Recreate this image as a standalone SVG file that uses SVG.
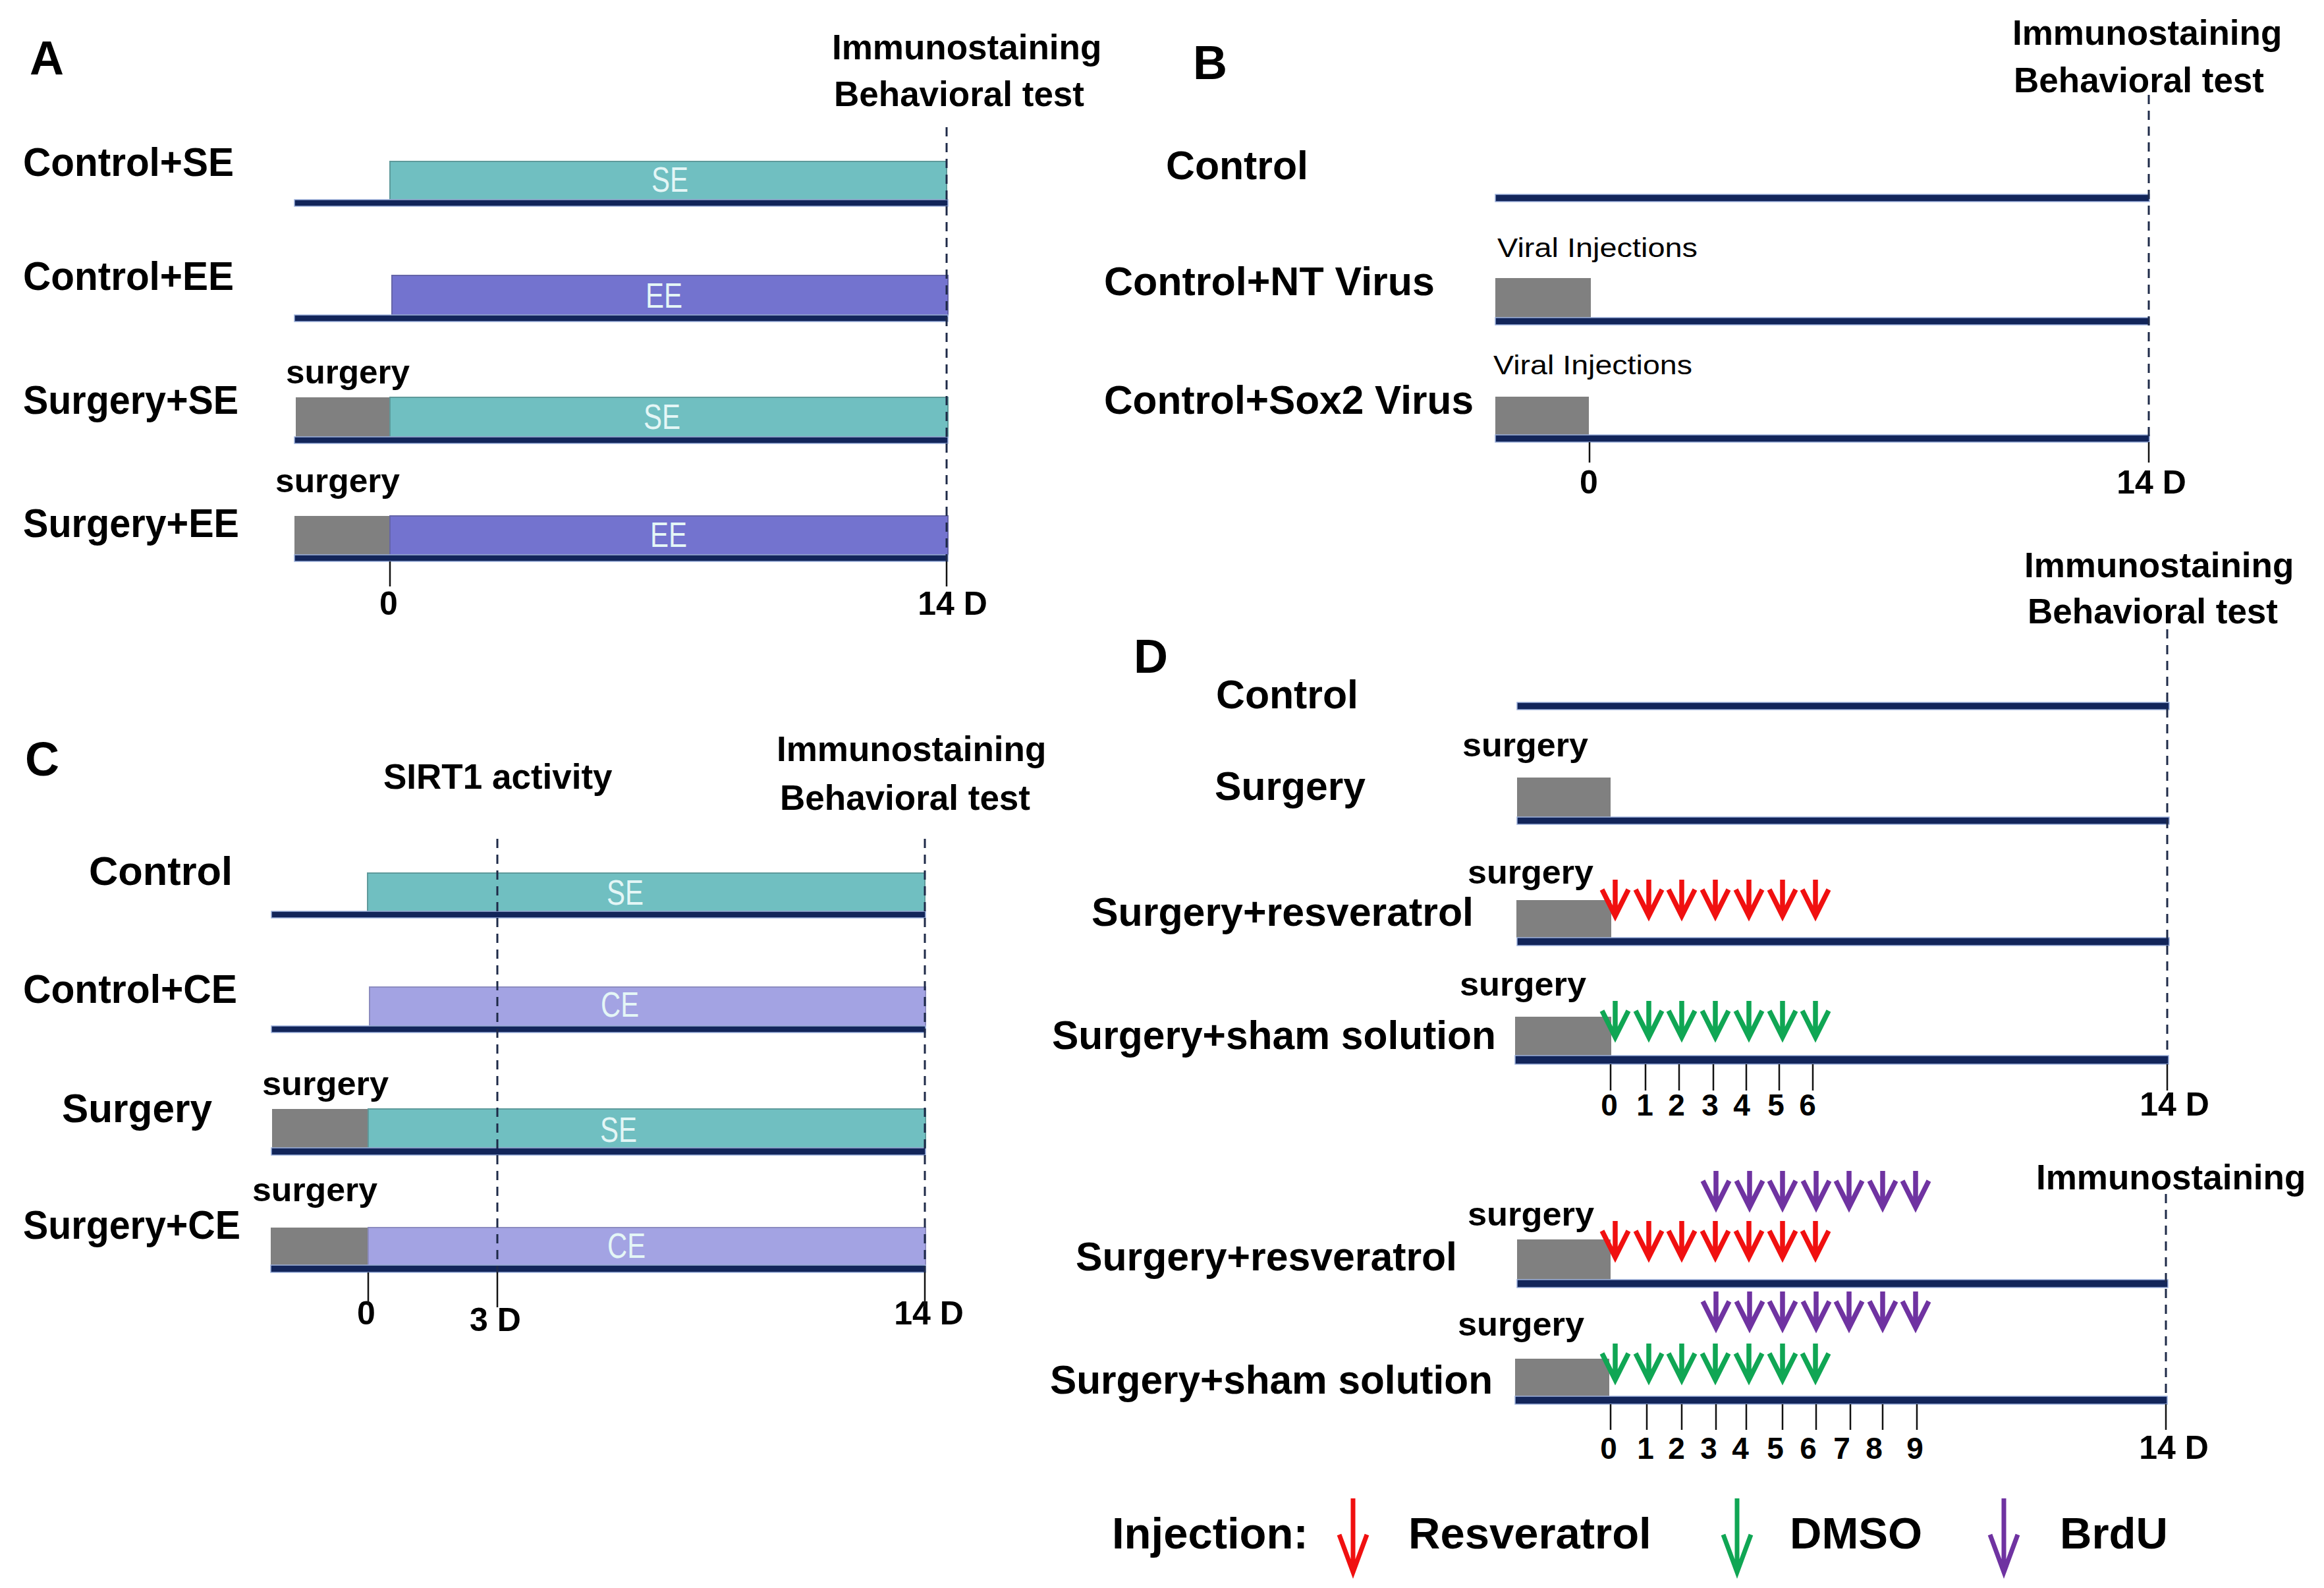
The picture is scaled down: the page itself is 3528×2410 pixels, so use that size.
<svg xmlns="http://www.w3.org/2000/svg" xmlns:xlink="http://www.w3.org/1999/xlink" width="3528" height="2410" viewBox="0 0 3528 2410">
<style>
text{font-family:"Liberation Sans",Arial,sans-serif;fill:#000}
.pan{font-size:72px;font-weight:bold}
.lbl{font-size:62px;font-weight:bold}
.hdr{font-size:53px;font-weight:bold}
.sur{font-size:50px;font-weight:bold}
.tk{font-size:50px;font-weight:bold;text-anchor:middle}
.dg{font-size:46px;font-weight:bold;text-anchor:middle}
.bt{font-size:54px;fill:#e4f6f6;text-anchor:middle}
.vir{font-size:41px}
.leg{font-size:67px;font-weight:bold}
.tl{fill:#12255a;stroke:#9db1dc;stroke-width:1.5}
.gray{fill:#808080}
.se{fill:#70bfc1;stroke:#5e9a9b;stroke-width:2}
.ee{fill:#7373cf;stroke:#6565a8;stroke-width:2}
.ce{fill:#a3a3e3;stroke:#8c8cc0;stroke-width:2}
.dash{stroke:#1e2a48;stroke-width:3;stroke-dasharray:14 10;fill:none}
.tick{stroke:#111;stroke-width:2.5;fill:none}
.red{stroke:#f01010}
.grn{stroke:#10a654}
.pur{stroke:#6f33a1}
</style>
<defs>
<g id="arr" fill="none" stroke-width="7.5"><path d="M0,0 V52 M-20,15 L0,55 L20,15"/></g>
<g id="larr" fill="none" stroke-width="7"><path d="M0,0 V110 M-21,55 L0,112 L21,55"/></g>
</defs>

<g id="panelA">
<text class="pan" x="45" y="113">A</text>
<text class="hdr" x="1263" y="90">Immunostaining</text>
<text class="hdr" x="1266" y="161">Behavioral test</text>
<g id="A-row1">
<text class="lbl" x="35" y="267" textLength="320" lengthAdjust="spacingAndGlyphs">Control+SE</text>
<rect class="se" x="592" y="245" width="845" height="58"/>
<text class="bt" x="1017" y="291" textLength="56" lengthAdjust="spacingAndGlyphs">SE</text>
<rect class="tl" x="447" y="303" width="992" height="10"/>
</g>
<g id="A-row2">
<text class="lbl" x="35" y="440" textLength="320" lengthAdjust="spacingAndGlyphs">Control+EE</text>
<rect class="ee" x="595" y="418" width="844" height="60"/>
<text class="bt" x="1008" y="467" textLength="56" lengthAdjust="spacingAndGlyphs">EE</text>
<rect class="tl" x="447" y="478" width="992" height="10"/>
</g>
<g id="A-row3">
<text class="sur" x="434" y="582" textLength="188" lengthAdjust="spacingAndGlyphs">surgery</text>
<text class="lbl" x="35" y="628" textLength="327" lengthAdjust="spacingAndGlyphs">Surgery+SE</text>
<rect class="gray" x="449" y="603" width="143" height="60"/>
<rect class="se" x="592" y="603" width="847" height="60"/>
<text class="bt" x="1005" y="651" textLength="56" lengthAdjust="spacingAndGlyphs">SE</text>
<rect class="tl" x="447" y="663" width="992" height="10"/>
</g>
<g id="A-row4">
<text class="sur" x="418" y="747" textLength="189" lengthAdjust="spacingAndGlyphs">surgery</text>
<text class="lbl" x="35" y="815" textLength="328" lengthAdjust="spacingAndGlyphs">Surgery+EE</text>
<rect class="gray" x="447" y="783" width="145" height="59"/>
<rect class="ee" x="592" y="783" width="847" height="59"/>
<text class="bt" x="1015" y="830" textLength="56" lengthAdjust="spacingAndGlyphs">EE</text>
<rect class="tl" x="447" y="842" width="992" height="10"/>
</g>
<text class="tk" x="590" y="933">0</text>
<text class="tk" x="1446" y="933">14 D</text>
</g>

<g id="panelB">
<text class="pan" x="1811" y="120">B</text>
<text class="hdr" x="3055" y="68">Immunostaining</text>
<text class="hdr" x="3057" y="140">Behavioral test</text>
<g id="B-row1">
<text class="lbl" x="1770" y="272" textLength="216" lengthAdjust="spacingAndGlyphs">Control</text>
<rect class="tl" x="2270" y="295" width="993" height="11"/>
</g>
<g id="B-row2">
<text class="vir" x="2273" y="390" textLength="304" lengthAdjust="spacingAndGlyphs">Viral Injections</text>
<text class="lbl" x="1676" y="448" textLength="502" lengthAdjust="spacingAndGlyphs">Control+NT Virus</text>
<rect class="gray" x="2270" y="422" width="145" height="60"/>
<rect class="tl" x="2270" y="482" width="993" height="11"/>
</g>
<g id="B-row3">
<text class="vir" x="2267" y="568" textLength="302" lengthAdjust="spacingAndGlyphs">Viral Injections</text>
<text class="lbl" x="1676" y="628" textLength="561" lengthAdjust="spacingAndGlyphs">Control+Sox2 Virus</text>
<rect class="gray" x="2270" y="602" width="142" height="58"/>
<rect class="tl" x="2270" y="660" width="993" height="11"/>
</g>
<text class="tk" x="2412" y="749">0</text>
<text class="tk" x="3266" y="749">14 D</text>
</g>

<g id="panelC">
<text class="pan" x="38" y="1177">C</text>
<text class="hdr" x="582" y="1197">SIRT1 activity</text>
<text class="hdr" x="1179" y="1155">Immunostaining</text>
<text class="hdr" x="1184" y="1229">Behavioral test</text>
<g id="C-row1">
<text class="lbl" x="135" y="1343" textLength="218" lengthAdjust="spacingAndGlyphs">Control</text>
<rect class="se" x="558" y="1325" width="846" height="58"/>
<text class="bt" x="949" y="1373" textLength="56" lengthAdjust="spacingAndGlyphs">SE</text>
<rect class="tl" x="412" y="1383" width="993" height="10"/>
</g>
<g id="C-row2">
<text class="lbl" x="35" y="1522" textLength="325" lengthAdjust="spacingAndGlyphs">Control+CE</text>
<rect class="ce" x="561" y="1498" width="844" height="59"/>
<text class="bt" x="941" y="1543" textLength="58" lengthAdjust="spacingAndGlyphs">CE</text>
<rect class="tl" x="412" y="1557" width="993" height="10"/>
</g>
<g id="C-row3">
<text class="sur" x="398" y="1662" textLength="192" lengthAdjust="spacingAndGlyphs">surgery</text>
<text class="lbl" x="94" y="1703" textLength="228" lengthAdjust="spacingAndGlyphs">Surgery</text>
<rect class="gray" x="413" y="1683" width="146" height="59"/>
<rect class="se" x="559" y="1683" width="846" height="59"/>
<text class="bt" x="939" y="1733" textLength="56" lengthAdjust="spacingAndGlyphs">SE</text>
<rect class="tl" x="412" y="1742" width="993" height="11"/>
</g>
<g id="C-row4">
<text class="sur" x="383" y="1823" textLength="190" lengthAdjust="spacingAndGlyphs">surgery</text>
<text class="lbl" x="35" y="1880" textLength="330" lengthAdjust="spacingAndGlyphs">Surgery+CE</text>
<rect class="gray" x="411" y="1863" width="148" height="57"/>
<rect class="ce" x="559" y="1863" width="846" height="57"/>
<text class="bt" x="951" y="1909" textLength="58" lengthAdjust="spacingAndGlyphs">CE</text>
<rect class="tl" x="411" y="1920" width="994" height="11"/>
</g>
<text class="tk" x="556" y="2010">0</text>
<text class="tk" x="752" y="2020">3 D</text>
<text class="tk" x="1410" y="2010">14 D</text>
</g>

<g id="panelD">
<text class="pan" x="1721" y="1021">D</text>
<text class="hdr" x="3073" y="876">Immunostaining</text>
<text class="hdr" x="3078" y="946">Behavioral test</text>
<g id="D-row1">
<text class="lbl" x="1846" y="1075" textLength="216" lengthAdjust="spacingAndGlyphs">Control</text>
<rect class="tl" x="2303" y="1066" width="990" height="11"/>
</g>
<g id="D-row2">
<text class="sur" x="2220" y="1148" textLength="191" lengthAdjust="spacingAndGlyphs">surgery</text>
<text class="lbl" x="1844" y="1214" textLength="229" lengthAdjust="spacingAndGlyphs">Surgery</text>
<rect class="gray" x="2303" y="1180" width="142" height="60"/>
<rect class="tl" x="2303" y="1240" width="990" height="11"/>
</g>
<g id="D-row3">
<text class="sur" x="2228" y="1341" textLength="191" lengthAdjust="spacingAndGlyphs">surgery</text>
<text class="lbl" x="1657" y="1405" textLength="580" lengthAdjust="spacingAndGlyphs">Surgery+resveratrol</text>
<rect class="gray" x="2302" y="1366" width="144" height="57"/>
<rect class="tl" x="2303" y="1423" width="990" height="12"/>
<g class="red">
<use xlink:href="#arr" x="2452" y="1335"/><use xlink:href="#arr" x="2503" y="1335"/><use xlink:href="#arr" x="2553" y="1335"/><use xlink:href="#arr" x="2604" y="1335"/><use xlink:href="#arr" x="2655" y="1335"/><use xlink:href="#arr" x="2706" y="1335"/><use xlink:href="#arr" x="2756" y="1335"/>
</g>
</g>
<g id="D-row4">
<text class="sur" x="2216" y="1511" textLength="192" lengthAdjust="spacingAndGlyphs">surgery</text>
<text class="lbl" x="1597" y="1592" textLength="674" lengthAdjust="spacingAndGlyphs">Surgery+sham solution</text>
<rect class="gray" x="2300" y="1543" width="146" height="59"/>
<rect class="tl" x="2300" y="1602" width="992" height="13"/>
<g class="grn">
<use xlink:href="#arr" x="2452" y="1519"/><use xlink:href="#arr" x="2503" y="1519"/><use xlink:href="#arr" x="2553" y="1519"/><use xlink:href="#arr" x="2604" y="1519"/><use xlink:href="#arr" x="2655" y="1519"/><use xlink:href="#arr" x="2706" y="1519"/><use xlink:href="#arr" x="2756" y="1519"/>
</g>
</g>
<g id="D-scale1">
<text class="dg" x="2443" y="1693">0</text><text class="dg" x="2497" y="1693">1</text><text class="dg" x="2545" y="1693">2</text><text class="dg" x="2596" y="1693">3</text><text class="dg" x="2644" y="1693">4</text><text class="dg" x="2696" y="1693">5</text><text class="dg" x="2744" y="1693">6</text>
<text class="tk" x="3301" y="1693">14 D</text>
</g>

<text class="hdr" x="3091" y="1805">Immunostaining</text>
<g id="D-row5">
<g class="pur">
<use xlink:href="#arr" x="2605" y="1777"/><use xlink:href="#arr" x="2656" y="1777"/><use xlink:href="#arr" x="2706" y="1777"/><use xlink:href="#arr" x="2757" y="1777"/><use xlink:href="#arr" x="2807" y="1777"/><use xlink:href="#arr" x="2858" y="1777"/><use xlink:href="#arr" x="2908" y="1777"/>
</g>
<text class="sur" x="2228" y="1860" textLength="192" lengthAdjust="spacingAndGlyphs">surgery</text>
<text class="lbl" x="1633" y="1928" textLength="579" lengthAdjust="spacingAndGlyphs">Surgery+resveratrol</text>
<rect class="gray" x="2303" y="1881" width="142" height="61"/>
<rect class="tl" x="2303" y="1942" width="988" height="12"/>
<g class="red">
<use xlink:href="#arr" x="2452" y="1853"/><use xlink:href="#arr" x="2503" y="1853"/><use xlink:href="#arr" x="2553" y="1853"/><use xlink:href="#arr" x="2604" y="1853"/><use xlink:href="#arr" x="2655" y="1853"/><use xlink:href="#arr" x="2706" y="1853"/><use xlink:href="#arr" x="2756" y="1853"/>
</g>
</g>
<g id="D-row6">
<g class="pur">
<use xlink:href="#arr" x="2605" y="1960"/><use xlink:href="#arr" x="2656" y="1960"/><use xlink:href="#arr" x="2706" y="1960"/><use xlink:href="#arr" x="2757" y="1960"/><use xlink:href="#arr" x="2807" y="1960"/><use xlink:href="#arr" x="2858" y="1960"/><use xlink:href="#arr" x="2908" y="1960"/>
</g>
<text class="sur" x="2213" y="2027" textLength="192" lengthAdjust="spacingAndGlyphs">surgery</text>
<text class="lbl" x="1594" y="2115" textLength="672" lengthAdjust="spacingAndGlyphs">Surgery+sham solution</text>
<rect class="gray" x="2300" y="2062" width="143" height="57"/>
<rect class="tl" x="2300" y="2119" width="990" height="12"/>
<g class="grn">
<use xlink:href="#arr" x="2452" y="2039"/><use xlink:href="#arr" x="2503" y="2039"/><use xlink:href="#arr" x="2553" y="2039"/><use xlink:href="#arr" x="2604" y="2039"/><use xlink:href="#arr" x="2655" y="2039"/><use xlink:href="#arr" x="2706" y="2039"/><use xlink:href="#arr" x="2756" y="2039"/>
</g>
</g>
<g id="D-scale2">
<text class="dg" x="2442" y="2214">0</text><text class="dg" x="2498" y="2214">1</text><text class="dg" x="2545" y="2214">2</text><text class="dg" x="2594" y="2214">3</text><text class="dg" x="2642" y="2214">4</text><text class="dg" x="2695" y="2214">5</text><text class="dg" x="2745" y="2214">6</text><text class="dg" x="2796" y="2214">7</text><text class="dg" x="2845" y="2214">8</text><text class="dg" x="2907" y="2214">9</text>
<text class="tk" x="3300" y="2214">14 D</text>
</g>
</g>

<g id="legend">
<text class="leg" x="1688" y="2350">Injection:</text>
<use xlink:href="#larr" class="red" x="2054" y="2274"/>
<text class="leg" x="2138" y="2350">Resveratrol</text>
<use xlink:href="#larr" class="grn" x="2637" y="2274"/>
<text class="leg" x="2717" y="2350">DMSO</text>
<use xlink:href="#larr" class="pur" x="3042" y="2274"/>
<text class="leg" x="3127" y="2350">BrdU</text>
</g>

<g id="connectors">
<path class="dash" d="M1437,193 V852 M3262,144 V671 M755,1273 V1931 M1404,1273 V1931 M3290,955 V1602 M3288,1812 V2119"/>
<path class="tick" d="M592,852 V890 M1437,852 V890 M2413,671 V702 M3262,671 V702 M559,1931 V1981 M755,1931 V1984 M1404,1931 V1984 M3290,1615 V1655"/>
<path class="tick" d="M2445,1615 V1655 M2498,1615 V1655 M2549,1615 V1655 M2601,1615 V1655 M2651,1615 V1655 M2701,1615 V1655 M2752,1615 V1655"/>
<path class="tick" d="M2445,2131 V2170 M2500,2131 V2170 M2553,2131 V2170 M2605,2131 V2170 M2651,2131 V2170 M2706,2131 V2170 M2757,2131 V2170 M2809,2131 V2170 M2858,2131 V2170 M2910,2131 V2170 M3288,2131 V2170"/>
</g>
</svg>
